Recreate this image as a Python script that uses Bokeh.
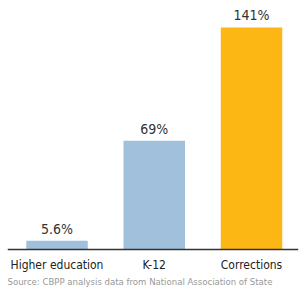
from bokeh.plotting import figure
from bokeh.models import Range1d, FixedTicker, Label
from bokeh.core.properties import value
from bokeh.embed import file_html
from bokeh.resources import INLINE

categories = ["Higher education", "K-12", "Corrections"]
values = [5.6, 69, 141]
value_labels = ["5.6%", "69%", "141%"]
positions = [0.5, 1.5, 2.5]
colors = ["#a0c0dc", "#a0c0dc", "#fdb714"]
source_text = "Source: CBPP analysis data from National Association of State"

FONT = "'DejaVu Sans Condensed', 'Liberation Sans', sans-serif"

p = figure(width=300, height=287, output_backend="svg", toolbar_location=None,
           x_range=Range1d(-0.009, 2.983), y_range=Range1d(-24.13, 158.1),
           min_border_left=7, min_border_right=2, min_border_top=0, min_border_bottom=0)
p.outline_line_color = None
p.background_fill_color = "white"
p.border_fill_color = "white"
p.grid.visible = False
p.yaxis.visible = False

p.vbar(x=positions, top=values, bottom=0, width=0.632, color=colors, line_color=None)

p.text(x=positions, y=values, text=value_labels, text_align="center",
       text_baseline="alphabetic", y_offset=-12, text_font=value(FONT),
       text_font_size="14px", text_color="#333333")

ax = p.xaxis[0]
ax.fixed_location = 0
ax.ticker = FixedTicker(ticks=positions)
ax.major_label_overrides = {pos: cat for pos, cat in zip(positions, categories)}
ax.major_tick_in = 0
ax.major_tick_out = 0
ax.minor_tick_in = 0
ax.minor_tick_out = 0
ax.axis_line_color = "#333333"
ax.axis_line_width = 1.5
ax.major_label_standoff = 9
ax.major_label_text_font = FONT
ax.major_label_text_font_size = "12px"
ax.major_label_text_color = "#222222"

src = Label(x=0, y=1, x_units="screen", y_units="screen",
            text=source_text,
            text_font=FONT, text_font_size="9.5px", text_color="#999999",
            text_baseline="bottom", text_align="left")
p.add_layout(src)

open("out.html", "w").write(file_html(p, INLINE))
